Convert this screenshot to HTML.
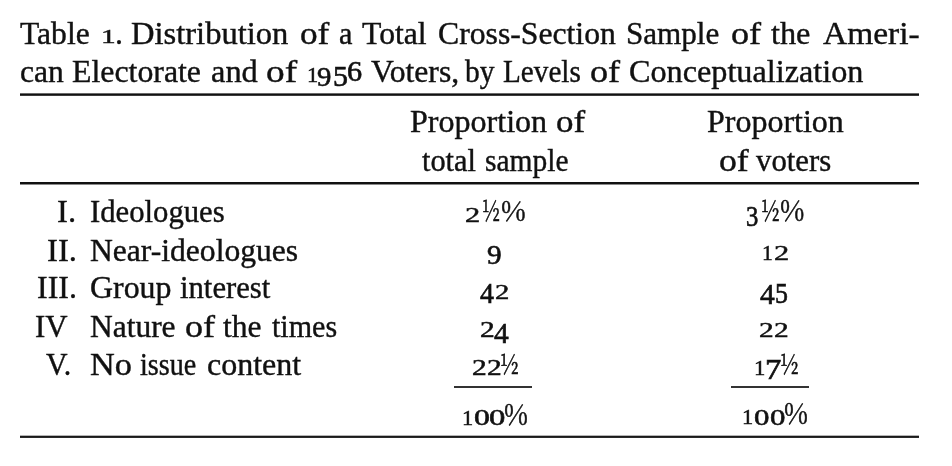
<!DOCTYPE html>
<html><head><meta charset="utf-8">
<style>
html,body{margin:0;padding:0;background:#fff;}
body{width:952px;height:466px;position:relative;overflow:hidden;filter:grayscale(1);font-family:"Liberation Serif",serif;color:#111;}
.w,.g{position:absolute;white-space:pre;font-size:31px;line-height:31px;transform-origin:0 26px;-webkit-text-stroke:0.4px #111;}
.g{-webkit-text-stroke:0.7px #111;}
.p{-webkit-text-stroke:0.6px #111 !important;}
.h{-webkit-text-stroke:0.7px #111 !important;}
.r{position:absolute;background:#111;}
.s{font-family:"Noto Serif CJK SC","Liberation Serif",serif;}
.ln{position:absolute;left:0;top:0;width:0;height:0;}
</style></head><body>
<div class="ln"><span class="w" style="left:20.01px;top:18px;transform:scaleX(1.0188)">Table</span> <span class="g" style="left:100.91px;top:18px;transform:translateY(-0.60px) scale(0.9462,0.6146)">1</span><span class="w" style="left:115.20px;top:18px;transform:scaleX(1.0323)">.</span> <span class="w" style="left:131.19px;top:18px;transform:scaleX(1.0499)">Distribution</span> <span class="w" style="left:300.00px;top:18px;transform:scaleX(1.1355)">of</span> <span class="w" style="left:338.75px;top:18px;transform:scaleX(0.9767)">a</span> <span class="w" style="left:361.60px;top:18px;transform:scaleX(1.0225)">Total</span> <span class="w" style="left:437.51px;top:18px;transform:scaleX(1.0227)">Cross-Section</span> <span class="w" style="left:626.06px;top:18px;transform:scaleX(1.0037)">Sample</span> <span class="w" style="left:730.67px;top:18px;transform:scaleX(1.1672)">of</span> <span class="w" style="left:771.30px;top:18px;transform:scaleX(1.0406)">the</span> <span class="w" style="left:822.60px;top:18px;transform:scaleX(1.0792)">Ameri-</span></div>
<div class="ln"><span class="w" style="left:19.91px;top:56px;transform:scaleX(1.0178)">can</span> <span class="w" style="left:72.10px;top:56px;transform:scaleX(1.0268)">Electorate</span> <span class="w" style="left:210.79px;top:56px;transform:scaleX(1.0459)">and</span> <span class="w" style="left:266.43px;top:56px;transform:scaleX(1.2030)">of</span> <span class="g" style="left:306.65px;top:56px;transform:translateY(-0.30px) scale(0.7226,0.6818)">1</span><span class="g" style="left:317.00px;top:56px;transform:translateY(3.96px) scale(0.9290,0.9103)">9</span><span class="g" style="left:333.30px;top:56px;transform:translateY(3.95px) scale(0.9634,0.9314)">5</span><span class="g" style="left:347.36px;top:56px;transform:translateY(-0.75px) scale(0.9753,0.9384)">6</span> <span class="w" style="left:371.40px;top:56px;transform:scaleX(1.0194)">Voters,</span> <span class="w" style="left:465.00px;top:56px;transform:scaleX(0.9516)">by</span> <span class="w" style="left:502.94px;top:56px;transform:scaleX(0.9418)">Levels</span> <span class="w" style="left:590.47px;top:56px;transform:scaleX(1.1672)">of</span> <span class="w" style="left:628.59px;top:56px;transform:scaleX(1.0393)">Conceptualization</span></div>
<div class="ln"><span class="w" style="left:409.60px;top:106px;transform:scaleX(1.0338)">Proportion</span> <span class="w" style="left:555.71px;top:106px;transform:scaleX(1.1275)">of</span></div>
<div class="ln"><span class="w" style="left:422.00px;top:145px;transform:scaleX(0.9795)">total</span> <span class="w" style="left:484.88px;top:145px;transform:scaleX(0.9506)">sample</span></div>
<div class="ln"><span class="w" style="left:706.60px;top:106px;transform:scaleX(1.0316)">Proportion</span></div>
<div class="ln"><span class="w" style="left:718.58px;top:145px;transform:scaleX(1.1514)">of</span> <span class="w" style="left:755.80px;top:145px;transform:scaleX(0.9928)">voters</span></div>
<div class="ln"><span class="w" style="left:57.38px;top:196px;transform:scaleX(1.0549)">I.</span> <span class="w" style="left:90.24px;top:196px;transform:scaleX(0.9901)">Ideologues</span> <span class="g" style="left:464.65px;top:196px;transform:translateY(-0.10px) scale(0.9787,0.7010)">2</span><span class="g s h" style="left:482.29px;top:193px;transform-origin:0 29px;transform:translateY(-0.58px) scale(0.6233,0.9084)">½</span><span class="g s p" style="left:500.76px;top:193px;transform-origin:0 29px;transform:translateY(-0.55px) scale(0.8633,0.8795)">%</span> <span class="g" style="left:745.84px;top:196px;transform:translateY(4.25px) scale(0.7952,0.9337)">3</span><span class="g s h" style="left:761.25px;top:193px;transform-origin:0 29px;transform:translateY(-0.58px) scale(0.6466,0.9084)">½</span><span class="g s p" style="left:780.07px;top:193px;transform-origin:0 29px;transform:translateY(-0.57px) scale(0.8521,0.9001)">%</span></div>
<div class="ln"><span class="w" style="left:46.58px;top:235px;transform:scaleX(1.0553)">II.</span> <span class="w" style="left:89.61px;top:235px;transform:scaleX(1.0191)">Near-ideologues</span> <span class="g" style="left:487.49px;top:234px;transform:translateY(4.37px) scale(0.9438,0.8962)">9</span> <span class="g" style="left:762.11px;top:234px;transform:translateY(-0.20px) scale(0.6968,0.6626)">1</span><span class="g" style="left:773.75px;top:234px;transform:translateY(-0.20px) scale(0.9787,0.6770)">2</span></div>
<div class="ln"><span class="w" style="left:36.60px;top:272px;transform:scaleX(1.0303)">III.</span> <span class="w" style="left:90.00px;top:272px;transform:scaleX(1.0288)">Group</span> <span class="w" style="left:179.82px;top:272px;transform:scaleX(0.9894)">interest</span> <span class="g" style="left:480.16px;top:272px;transform:translateY(5.10px) scale(0.9015,0.9170)">4</span><span class="g" style="left:494.90px;top:272px;transform:translateY(0.90px) scale(0.9252,0.6962)">2</span> <span class="g" style="left:759.74px;top:272px;transform:translateY(5.80px) scale(0.9497,0.9506)">4</span><span class="g" style="left:774.99px;top:272px;transform:translateY(5.05px) scale(0.8335,0.9362)">5</span></div>
<div class="ln"><span class="w" style="left:35.34px;top:311px;transform:scaleX(0.9957)">IV</span> <span class="w" style="left:89.61px;top:311px;transform:scaleX(1.0147)">Nature</span> <span class="w" style="left:185.47px;top:311px;transform:scaleX(1.1633)">of</span> <span class="w" style="left:223.20px;top:311px;transform:scaleX(1.0164)">the</span> <span class="w" style="left:271.70px;top:311px;transform:scaleX(0.9692)">times</span> <span class="g" style="left:479.68px;top:311px;transform:translateY(-0.10px) scale(0.9481,0.7298)">2</span><span class="g" style="left:494.34px;top:311px;transform:translateY(5.60px) scale(0.9497,0.9554)">4</span> <span class="g" style="left:759.28px;top:311px;transform:translateY(-0.10px) scale(0.9481,0.6962)">2</span><span class="g" style="left:774.18px;top:311px;transform:translateY(-0.10px) scale(0.9481,0.6962)">2</span></div>
<div class="ln"><span class="w" style="left:45.50px;top:349px;transform:scaleX(0.9627)">V.</span> <span class="w" style="left:89.96px;top:349px;transform:scaleX(1.1061)">No</span> <span class="w" style="left:140.46px;top:349px;transform:scaleX(0.9074)">issue</span> <span class="w" style="left:206.90px;top:349px;transform:scaleX(1.0323)">content</span> <span class="g" style="left:471.88px;top:349px;transform:translateY(-0.20px) scale(0.9481,0.7154)">2</span><span class="g" style="left:486.78px;top:349px;transform:translateY(-0.20px) scale(0.9481,0.7154)">2</span><span class="g s h" style="left:499.84px;top:346px;transform-origin:0 29px;transform:translateY(-0.74px) scale(0.6505,0.8630)">½</span> <span class="g" style="left:753.83px;top:349px;transform:translateY(-0.20px) scale(0.7312,0.6818)">1</span><span class="g" style="left:764.56px;top:349px;transform:translateY(4.40px) scale(1.0552,0.9241)">7</span><span class="g s h" style="left:779.55px;top:346px;transform-origin:0 29px;transform:translateY(-1.06px) scale(0.6466,0.8919)">½</span></div>
<div class="ln"><span class="g" style="left:462.05px;top:399px;transform:translateY(-0.10px) scale(0.7226,0.6866)">1</span><span class="g" style="left:473.71px;top:399px;transform:translateY(-0.05px) scale(1.0249,0.7273)">0</span><span class="g" style="left:489.28px;top:399px;transform:translateY(-0.05px) scale(1.0544,0.7273)">0</span><span class="g s p" style="left:504.19px;top:396px;transform-origin:0 29px;transform:translateY(-0.17px) scale(0.8371,0.9001)">%</span> <span class="g" style="left:741.65px;top:399px;transform:translateY(-1.00px) scale(0.7226,0.6818)">1</span><span class="g" style="left:753.74px;top:399px;transform:translateY(-0.05px) scale(0.9954,0.7273)">0</span><span class="g" style="left:769.74px;top:399px;transform:translateY(-0.05px) scale(0.9954,0.7273)">0</span><span class="g s p" style="left:784.19px;top:396px;transform-origin:0 29px;transform:translateY(-0.98px) scale(0.8371,0.9043)">%</span></div>
<div class="r" style="left:20px;top:93px;width:899px;height:3px;background:linear-gradient(#6a6a6a 0 1px,#111 1px 2px,#3a3a3a 2px 3px);"></div>
<div class="r" style="left:20px;top:182px;width:899px;height:3px;background:linear-gradient(#111 0 2px,#8a8a8a 2px 3px);"></div>
<div class="r" style="left:454px;top:386px;width:78px;height:2px;background:#333;"></div>
<div class="r" style="left:731px;top:386px;width:78px;height:2px;background:#333;"></div>
<div class="r" style="left:20px;top:435px;width:899px;height:3px;background:linear-gradient(#b5b5b5 0 1px,#1a1a1a 1px 2px,#2a2a2a 2px 3px);"></div>
</body></html>
